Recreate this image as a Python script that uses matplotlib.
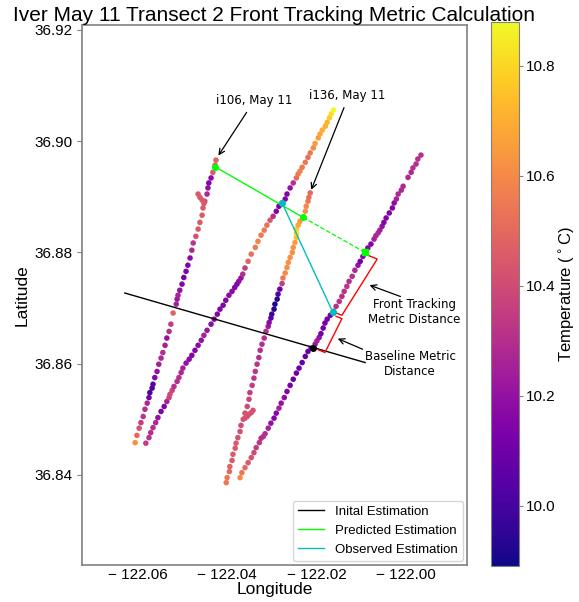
import matplotlib
matplotlib.use("Agg")
import matplotlib.pyplot as plt
from matplotlib.ticker import FuncFormatter

# i106 first leg
lon1 = [-122.0606, -122.0602, -122.0597, -122.0593, -122.0588, -122.0584, -122.0579, -122.0575, -122.0573, -122.0568,
        -122.0566, -122.0562, -122.0557, -122.0553, -122.0548, -122.0544, -122.0539, -122.0535, -122.0530, -122.0526,
        -122.0521, -122.0514, -122.0512, -122.0510, -122.0506, -122.0501, -122.0497, -122.0492, -122.0488, -122.0483,
        -122.0479, -122.0476, -122.0470, -122.0465, -122.0461, -122.0456, -122.0454, -122.0450, -122.0445, -122.0443,
        -122.0441, -122.0436, -122.0432, -122.0427, -122.0425,
        -122.0465, -122.0461, -122.0456, -122.0452]
lat1 = [36.8458, 36.8471, 36.8484, 36.8494, 36.8505, 36.8518, 36.8529, 36.8539, 36.8548, 36.8556,
        36.8563, 36.8575, 36.8586, 36.8599, 36.8610, 36.8620, 36.8633, 36.8646, 36.8658, 36.8671,
        36.8691, 36.8707, 36.8716, 36.8723, 36.8732, 36.8743, 36.8755, 36.8766, 36.8777, 36.8790,
        36.8804, 36.8817, 36.8829, 36.8842, 36.8854, 36.8867, 36.8880, 36.8892, 36.8905, 36.8916,
        36.8925, 36.8934, 36.8944, 36.8957, 36.8966,
        36.8905, 36.8899, 36.8894, 36.8888]
temp1 = [10.62, 10.50, 10.42, 10.35, 10.32, 10.30, 10.28, 10.12, 10.02, 10.00,
         10.05, 10.15, 10.20, 10.25, 10.28, 10.30, 10.25, 10.20, 10.30, 10.35,
         10.48, 10.25, 10.22, 10.25, 10.20, 10.15, 10.12, 10.15, 10.15, 10.18,
         10.28, 10.32, 10.42, 10.45, 10.45, 10.45, 10.45, 10.40, 10.28, 10.20,
         10.15, 10.18, 10.45, 10.48, 10.48,
         10.45, 10.45, 10.45, 10.45]

# i106 second leg
lon2 = [-122.0582, -122.0575, -122.0571, -122.0566, -122.0560, -122.0555, -122.0548, -122.0541, -122.0535, -122.0530,
        -122.0528, -122.0523, -122.0519, -122.0512, -122.0508, -122.0503, -122.0499, -122.0492, -122.0485, -122.0479,
        -122.0472, -122.0465, -122.0458, -122.0452, -122.0445, -122.0436, -122.0429, -122.0422, -122.0416, -122.0409,
        -122.0403, -122.0396, -122.0389, -122.0383, -122.0378, -122.0374, -122.0369, -122.0365, -122.0360, -122.0353,
        -122.0346, -122.0337, -122.0331, -122.0324, -122.0317, -122.0311, -122.0304, -122.0297, -122.0290, -122.0284,
        -122.0277, -122.0270, -122.0266, -122.0259, -122.0252, -122.0245, -122.0241, -122.0237, -122.0232, -122.0225,
        -122.0219, -122.0214, -122.0207, -122.0203, -122.0196, -122.0192, -122.0187, -122.0180, -122.0176, -122.0171,
        -122.0167, -122.0162]
lat2 = [36.8457, 36.8467, 36.8476, 36.8485, 36.8494, 36.8503, 36.8514, 36.8523, 36.8532, 36.8539,
        36.8545, 36.8552, 36.8559, 36.8568, 36.8575, 36.8584, 36.8592, 36.8601, 36.8608, 36.8615,
        36.8624, 36.8633, 36.8642, 36.8651, 36.8660, 36.8671, 36.8680, 36.8689, 36.8698, 36.8705,
        36.8714, 36.8723, 36.8730, 36.8737, 36.8743, 36.8748, 36.8754, 36.8761, 36.8772, 36.8784,
        36.8797, 36.8809, 36.8820, 36.8831, 36.8840, 36.8849, 36.8858, 36.8865, 36.8874, 36.8883,
        36.8889, 36.8896, 36.8905, 36.8916, 36.8925, 36.8934, 36.8941, 36.8946, 36.8953, 36.8962,
        36.8971, 36.8979, 36.8988, 36.8996, 36.9006, 36.9013, 36.9020, 36.9027, 36.9034, 36.9042,
        36.9049, 36.9056]
temp2 = [10.35, 10.32, 10.30, 10.30, 10.28, 10.20, 10.15, 10.15, 10.25, 10.38,
         10.40, 10.38, 10.30, 10.30, 10.30, 10.28, 10.25, 10.20, 10.18, 10.15,
         10.15, 10.18, 10.20, 10.25, 10.22, 10.18, 10.15, 10.15, 10.15, 10.15,
         10.15, 10.18, 10.18, 10.15, 10.15, 10.18, 10.20, 10.30, 10.35, 10.48,
         10.52, 10.55, 10.58, 10.55, 10.55, 10.52, 10.45, 10.30, 10.15, 10.12,
         10.18, 10.15, 10.15, 10.20, 10.30, 10.50, 10.55, 10.58, 10.55, 10.55,
         10.52, 10.55, 10.60, 10.65, 10.65, 10.68, 10.70, 10.70, 10.72, 10.78,
         10.82, 10.88]

# i136 first leg
lon3 = [-122.0402, -122.0400, -122.0395, -122.0394, -122.0389, -122.0387, -122.0382, -122.0380, -122.0376, -122.0371,
        -122.0369, -122.0364, -122.0360, -122.0355, -122.0351, -122.0349, -122.0344, -122.0340, -122.0337, -122.0333,
        -122.0329, -122.0326, -122.0322, -122.0317, -122.0313, -122.0308, -122.0306, -122.0302, -122.0300, -122.0295,
        -122.0293, -122.0288, -122.0286, -122.0282, -122.0277, -122.0275, -122.0270, -122.0266, -122.0263, -122.0259,
        -122.0254, -122.0252, -122.0248, -122.0245, -122.0245, -122.0245, -122.0241, -122.0237, -122.0230, -122.0225,
        -122.0223, -122.0219, -122.0217, -122.0214,
        -122.0360, -122.0355, -122.0351, -122.0346, -122.0342]
lat3 = [36.8386, 36.8395, 36.8406, 36.8415, 36.8426, 36.8437, 36.8448, 36.8457, 36.8467, 36.8478,
        36.8489, 36.8500, 36.8511, 36.8523, 36.8536, 36.8548, 36.8561, 36.8574, 36.8586, 36.8599,
        36.8611, 36.8624, 36.8635, 36.8646, 36.8658, 36.8667, 36.8674, 36.8682, 36.8689, 36.8698,
        36.8707, 36.8716, 36.8725, 36.8734, 36.8744, 36.8754, 36.8763, 36.8773, 36.8782, 36.8791,
        36.8800, 36.8809, 36.8818, 36.8827, 36.8834, 36.8842, 36.8849, 36.8856, 36.8863, 36.8874,
        36.8883, 36.8892, 36.8899, 36.8907,
        36.8502, 36.8505, 36.8509, 36.8512, 36.8516]
temp3 = [10.55, 10.55, 10.50, 10.48, 10.45, 10.45, 10.45, 10.45, 10.42, 10.42,
         10.40, 10.42, 10.42, 10.40, 10.38, 10.35, 10.35, 10.32, 10.32, 10.32,
         10.30, 10.30, 10.30, 10.30, 10.30, 10.22, 10.18, 10.05, 9.98, 9.93,
         9.92, 9.93, 10.02, 10.10, 10.35, 10.55, 10.60, 10.62, 10.62, 10.62,
         10.62, 10.62, 10.65, 10.75, 10.80, 10.78, 10.68, 10.65, 10.65, 10.62,
         10.60, 10.55, 10.52, 10.50,
         10.42, 10.42, 10.42, 10.42, 10.42]

# i136 second leg
lon4 = [-122.0371, -122.0367, -122.0360, -122.0353, -122.0346, -122.0340, -122.0335, -122.0328, -122.0324, -122.0319,
        -122.0315, -122.0308, -122.0302, -122.0295, -122.0290, -122.0284, -122.0279, -122.0272, -122.0266, -122.0259,
        -122.0252, -122.0245, -122.0239, -122.0232, -122.0225, -122.0219, -122.0212, -122.0203, -122.0199, -122.0194,
        -122.0190, -122.0185, -122.0181, -122.0176, -122.0169, -122.0162,
        -122.0156, -122.0149, -122.0143, -122.0138, -122.0132, -122.0127, -122.0120, -122.0114, -122.0107, -122.0102,
        -122.0096, -122.0091,
        -122.0085, -122.0078, -122.0071, -122.0067, -122.0062, -122.0058, -122.0053, -122.0049, -122.0044, -122.0037,
        -122.0030, -122.0026, -122.0021, -122.0017, -122.0010, -122.0006, -121.9995, -121.9988, -121.9984, -121.9977,
        -121.9973, -121.9966]
lat4 = [36.8395, 36.8404, 36.8413, 36.8422, 36.8431, 36.8440, 36.8449, 36.8458, 36.8466, 36.8469,
        36.8474, 36.8484, 36.8493, 36.8502, 36.8511, 36.8520, 36.8529, 36.8539, 36.8550, 36.8561,
        36.8572, 36.8583, 36.8592, 36.8602, 36.8613, 36.8622, 36.8628, 36.8635, 36.8641, 36.8647,
        36.8654, 36.8664, 36.8673, 36.8680, 36.8687, 36.8694,
        36.8703, 36.8712, 36.8721, 36.8730, 36.8739, 36.8748, 36.8757, 36.8768, 36.8777, 36.8784,
        36.8793, 36.8800,
        36.8808, 36.8815, 36.8824, 36.8830, 36.8835, 36.8840, 36.8847, 36.8854, 36.8862, 36.8871,
        36.8880, 36.8889, 36.8896, 36.8905, 36.8912, 36.8919, 36.8935, 36.8944, 36.8952, 36.8959,
        36.8968, 36.8975]
temp4 = [10.60, 10.55, 10.50, 10.45, 10.42, 10.40, 10.35, 10.32, 10.30, 10.30,
         10.30, 10.25, 10.20, 10.15, 10.18, 10.25, 10.20, 10.18, 10.15, 10.12,
         10.10, 10.10, 10.10, 10.08, 10.08, 10.08, 10.10, 10.22, 10.25, 10.20,
         10.12, 10.12, 10.12, 10.12, 10.10, 10.12,
         10.30, 10.32, 10.30, 10.32, 10.32, 10.30, 10.30, 10.28, 10.20, 10.12,
         10.15, 10.15,
         10.15, 10.15, 10.25, 10.28, 10.28, 10.25, 10.20, 10.15, 10.15, 10.15,
         10.15, 10.18, 10.25, 10.28, 10.28, 10.28, 10.28, 10.28, 10.30, 10.30,
         10.30, 10.30]

# estimation lines
init_lon = [-122.0629, -122.0091]
init_lat = [36.8727, 36.8602]
init_pt_lon = -122.0208
init_pt_lat = 36.8629
pred_lon = [-122.0427, -122.0230, -122.0091]
pred_lat = [36.8954, 36.8863, 36.8800]
obs_lon = [-122.0277, -122.0163]
obs_lat = [36.8889, 36.8692]

# red brackets
br1_lon = [-122.0085, -122.0064, -122.0143, -122.0158]
br1_lat = [36.8795, 36.8788, 36.8687, 36.8692]
br2_lon = [-122.0156, -122.0143, -122.0181, -122.0196]
br2_lat = [36.8685, 36.8681, 36.8620, 36.8625]

xticks = [-122.06, -122.04, -122.02, -122.00]
yticks = [36.84, 36.86, 36.88, 36.90, 36.92]
cticks = [10.0, 10.2, 10.4, 10.6, 10.8]
tmin, tmax = 9.89, 10.88

plt.rcParams['font.family'] = ['Liberation Sans', 'DejaVu Sans']

fig = plt.figure(figsize=(5.79, 6.02), dpi=100)
ax = fig.add_axes([0.1416, 0.0615, 0.6649, 0.897])
cax = fig.add_axes([0.848, 0.0598, 0.0484, 0.9037])

for lo, la, t in [(lon1, lat1, temp1), (lon2, lat2, temp2), (lon3, lat3, temp3), (lon4, lat4, temp4)]:
    sc = ax.scatter(lo, la, c=t, cmap='plasma', vmin=tmin, vmax=tmax, s=16, linewidths=0, zorder=2)

ax.plot(init_lon, init_lat, color='black', lw=1, label='Inital Estimation', zorder=3)
ax.plot(pred_lon[:2], pred_lat[:2], color='lime', lw=1, label='Predicted Estimation', zorder=3)
ax.plot(pred_lon[1:], pred_lat[1:], color='lime', lw=0.9, ls='--', zorder=3)
ax.plot(obs_lon, obs_lat, color='c', lw=1, label='Observed Estimation', zorder=3)
ax.plot(init_pt_lon, init_pt_lat, 'o', color='black', ms=4, zorder=4)
ax.plot(pred_lon[:2], pred_lat[:2], 'o', color='lime', ms=4, zorder=4)
ax.plot(pred_lon[2], pred_lat[2], 's', color='lime', ms=5, zorder=4)
ax.plot(obs_lon, obs_lat, 'o', color='c', ms=4, zorder=4)
ax.plot(br1_lon, br1_lat, color='red', lw=1, zorder=3)
ax.plot(br2_lon, br2_lat, color='red', lw=1, zorder=3)

arrow = dict(arrowstyle='->', color='black', lw=0.9)
afont = dict(family='DejaVu Sans', fontsize=8.5, ha='center', va='center')
ax.text(-122.0340, 36.9074, 'i106, May 11', **afont)
ax.annotate('', xy=(-122.0423, 36.8970), xytext=(-122.0353, 36.9056), arrowprops=arrow)
ax.text(-122.0132, 36.9083, 'i136, May 11', **afont)
ax.annotate('', xy=(-122.0214, 36.8908), xytext=(-122.0136, 36.9065), arrowprops=arrow)
ax.text(-121.9981, 36.8692, 'Front Tracking\nMetric Distance', **afont)
ax.annotate('', xy=(-122.0087, 36.8743), xytext=(-122.0006, 36.8719), arrowprops=arrow)
ax.text(-121.9990, 36.8599, 'Baseline Metric\nDistance', **afont)
ax.annotate('', xy=(-122.0158, 36.8647), xytext=(-122.0091, 36.8624), arrowprops=arrow)

ax.set_xlim(-122.0725, -121.9863)
ax.set_ylim(36.8238, 36.9209)
ax.set_xticks(xticks)
ax.set_yticks(yticks)
ax.xaxis.set_major_formatter(FuncFormatter(lambda v, p: '\u2212 %.2f' % abs(v) if v < 0 else '%.2f' % v))
ax.yaxis.set_major_formatter(FuncFormatter(lambda v, p: '%.2f' % v))
ax.tick_params(axis='x', length=0, pad=2, labelsize=11)
ax.tick_params(axis='y', length=3.5, color='gray', labelsize=11)
for sp in ax.spines.values():
    sp.set_color('gray')
    sp.set_linewidth(1.2)

ax.set_xlabel('Longitude', fontsize=12.5, labelpad=0)
ax.set_ylabel('Latitude', fontsize=12.5, labelpad=3)
ax.set_title('Iver May 11 Transect 2 Front Tracking Metric Calculation', fontsize=15, pad=2)
ax.legend(loc='lower right', fontsize=9.5, borderaxespad=0.3)

cbar = fig.colorbar(sc, cax=cax, ticks=cticks)
cbar.outline.set_edgecolor('gray')
cbar.ax.tick_params(labelsize=11, color='gray', length=3, pad=2)
cbar.set_label('Temperature ($^\\circ$C)', fontsize=12, labelpad=1)

fig.savefig('out.png', dpi=100)
